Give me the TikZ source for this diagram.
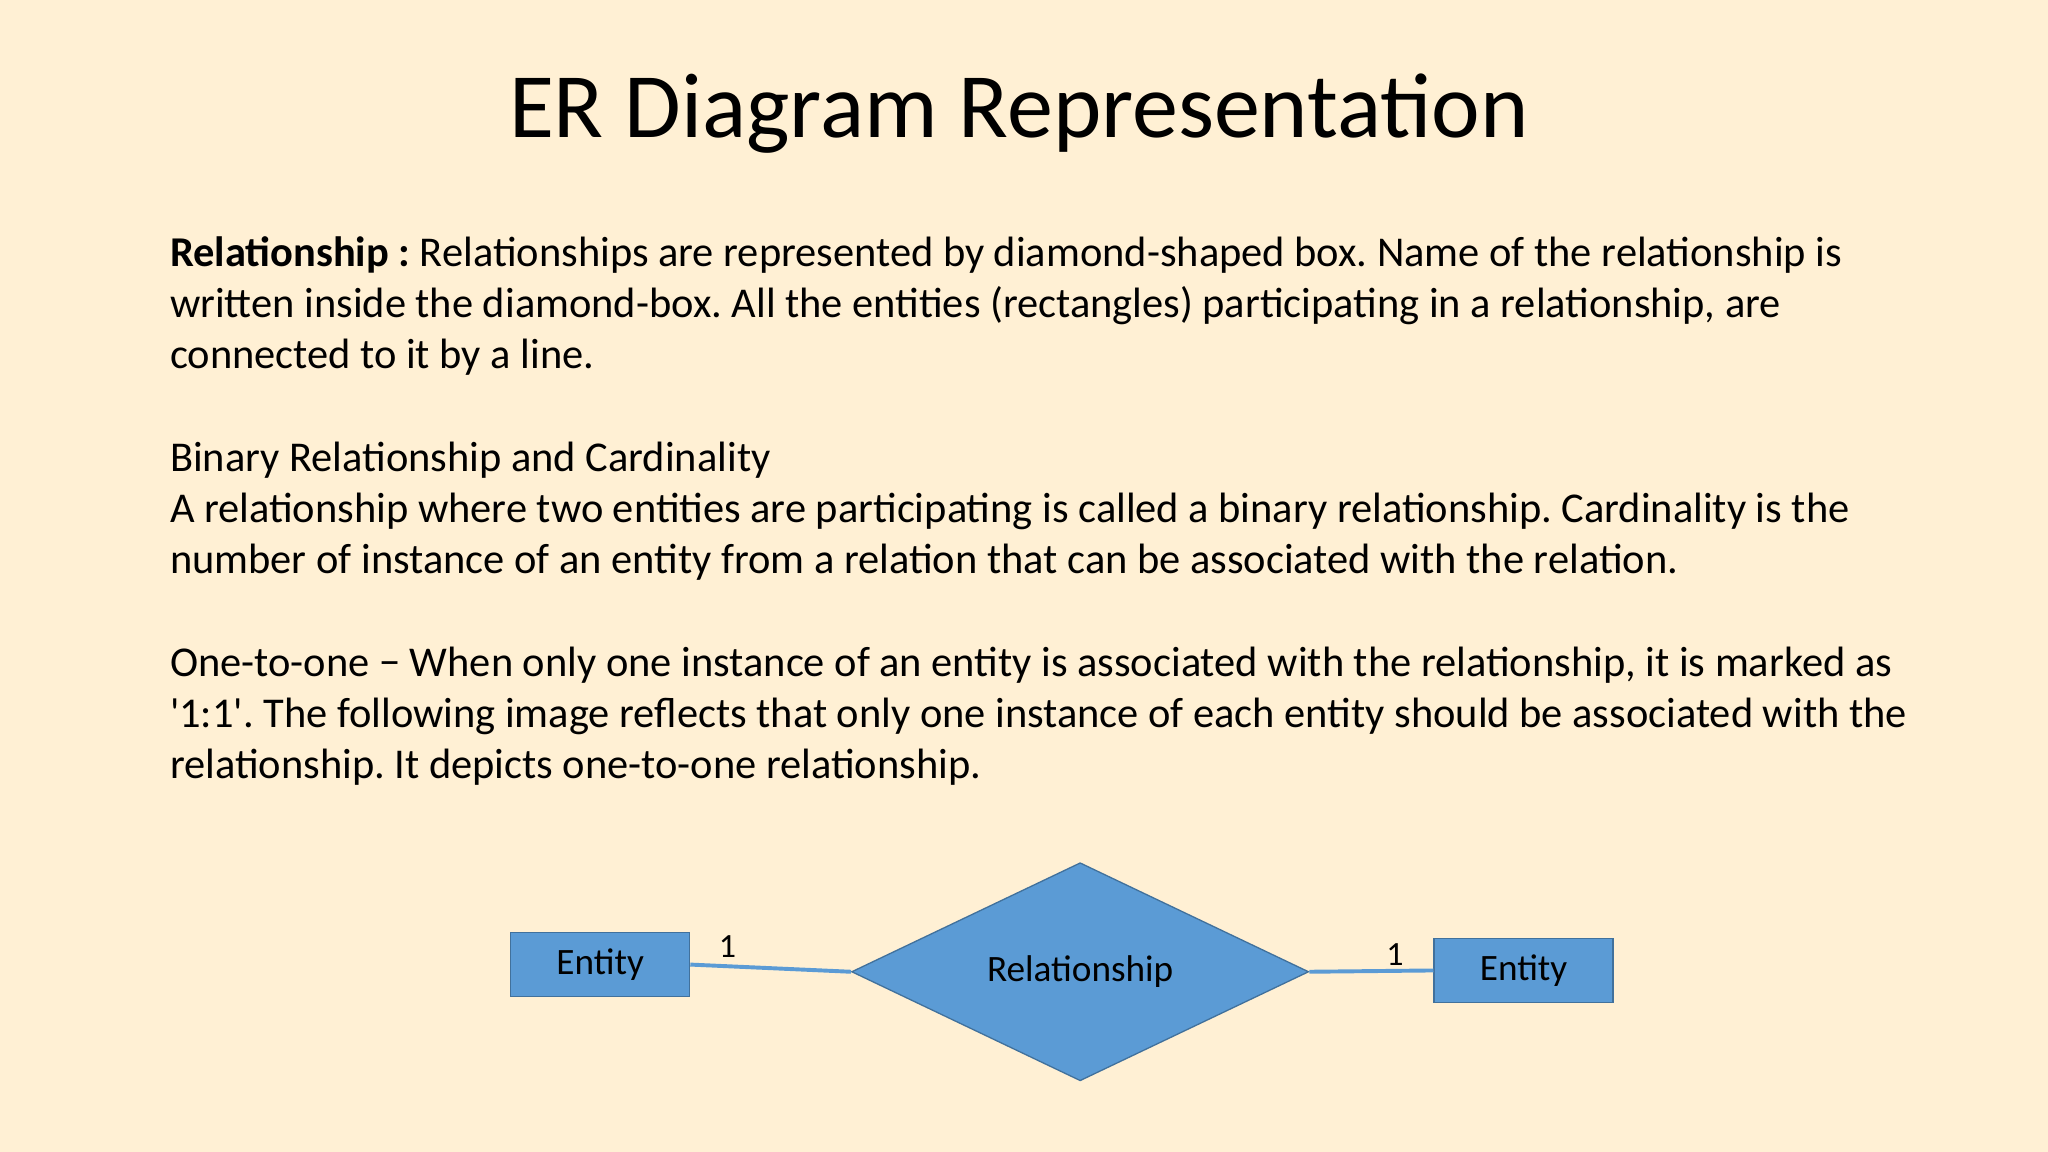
\documentclass[tikz,border=0pt]{standalone}
\usepackage{fontspec}
\setmainfont{Carlito}[Ligatures=TeXOff]
\usetikzlibrary{shapes.geometric}
\definecolor{bg}{HTML}{FFF0D4}
\definecolor{efill}{HTML}{5B9BD5}
\definecolor{eline}{HTML}{41719C}
\tikzset{
 body/.style={anchor=base west,inner sep=0pt,font=\fontsize{32.5}{38}\selectfont},
 ent/.style={draw=eline,fill=efill,minimum width=137pt,minimum height=49pt,inner sep=0pt,font=\fontsize{28.5}{32}\selectfont,line width=1pt},
 rel/.style={diamond,draw=eline,fill=efill,minimum width=350pt,minimum height=148pt,inner sep=0pt,font=\fontsize{28.5}{32}\selectfont,line width=1pt},
 conn/.style={draw=efill,line width=3pt},
 card/.style={font=\fontsize{26}{30}\selectfont,inner sep=0pt}
}
\begin{document}
\frenchspacing
\begin{tikzpicture}[x=1pt,y=-1pt]
\fill[bg] (0,0) rectangle (1568,882);
\useasboundingbox (0,0) rectangle (1568,882);
\node[anchor=base,inner sep=0pt,font=\fontsize{70.5}{78}\selectfont] (title) at (780,105) {ER Diagram Representation};
\node[body] (l1) at (130,204) {\textbf{Relationship :} Relationships are represented by diamond-shaped box. Name of the relationship is};
\node[body] (l2) at (130,243) {written inside the diamond-box. All the entities (rectangles) participating in a relationship, are};
\node[body] (l3) at (130,282) {connected to it by a line.};
\node[body] (l4) at (130,361) {Binary Relationship and Cardinality};
\node[body] (l5) at (130,400) {A relationship where two entities are participating is called a binary relationship. Cardinality is the};
\node[body] (l6) at (130,439) {number of instance of an entity from a relation that can be associated with the relation.};
\node[body] (l7) at (130,518) {One-to-one − When only one instance of an entity is associated with the relationship, it is marked as};
\node[body] (l8) at (130,557) {'1:1'. The following image reflects that only one instance of each entity should be associated with the};
\node[body] (l9) at (130,596) {relationship. It depicts one-to-one relationship.};
\node[ent] (e1) at (459.5,738.5) {Entity};
\node[ent] (e2) at (1166.5,743) {Entity};
\node[rel] (r) at (827,744) {Relationship};
\draw[conn] (e1.east) -- (r.west);
\draw[conn] (r.east) -- (e2.west);
\node[card] (c1) at (557,725) {1};
\node[card] (c2) at (1068,731) {1};
\end{tikzpicture}
\end{document}
